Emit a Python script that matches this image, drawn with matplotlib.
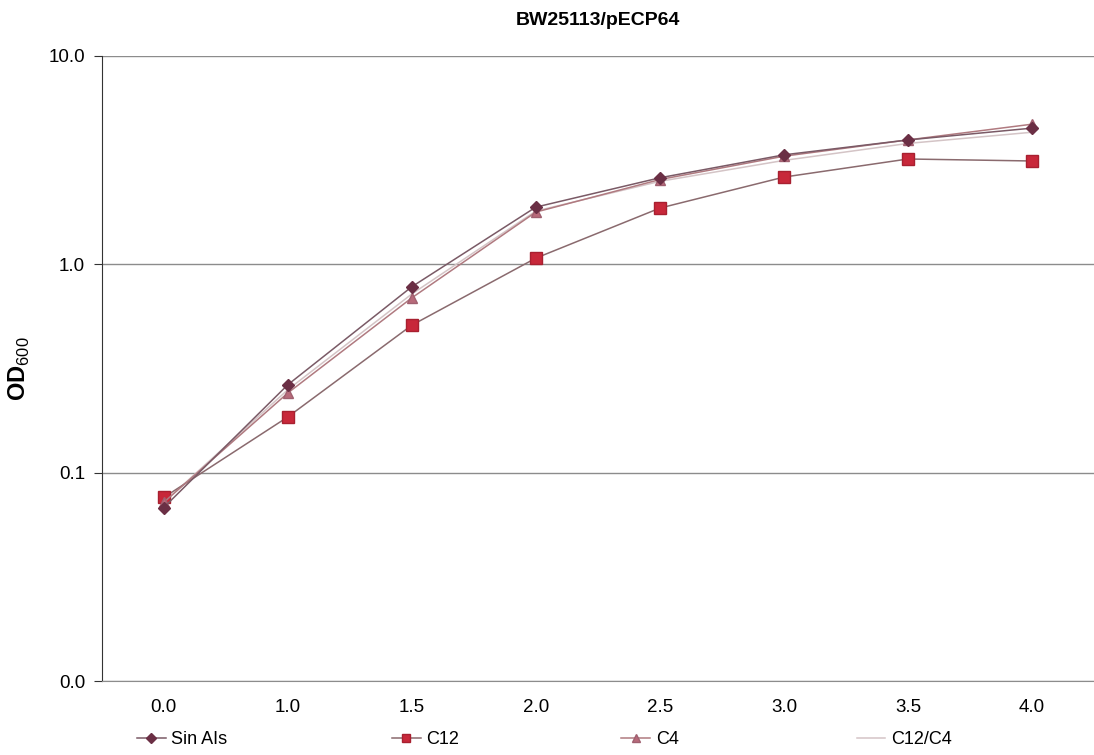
import matplotlib
matplotlib.use("Agg")
import matplotlib.pyplot as plt
from matplotlib.ticker import FixedLocator, FuncFormatter, NullLocator

plt.rcParams['font.family'] = ['Liberation Sans', 'DejaVu Sans']
plt.rcParams['mathtext.fontset'] = 'custom'
plt.rcParams['mathtext.rm'] = 'Liberation Sans'
plt.rcParams['mathtext.bf'] = 'Liberation Sans:bold'

# time points (category axis) and OD600 readings
times = ["0.0", "1.0", "1.5", "2.0", "2.5", "3.0", "3.5", "4.0"]
sin_ais = [0.068, 0.264, 0.78, 1.88, 2.60, 3.35, 3.95, 4.50]
c12 = [0.076, 0.185, 0.51, 1.07, 1.86, 2.62, 3.20, 3.13]
c4 = [0.072, 0.241, 0.69, 1.78, 2.55, 3.30, 3.95, 4.70]
c12_c4 = [0.072, 0.250, 0.72, 1.80, 2.50, 3.15, 3.80, 4.30]

fig = plt.figure(figsize=(10.94, 7.55), dpi=100)
ax = fig.add_axes([0.093, 0.098, 0.907, 0.828])

x = range(len(times))
ax.plot(x, sin_ais, color="#7a5a66", lw=1.1, marker="D", ms=6,
        mfc="#6b2f45", mec="#6b2f45", label="Sin AIs", zorder=4)
ax.plot(x, c12, color="#8a6a6e", lw=1.1, marker="s", ms=8,
        mfc="#c8283a", mec="#a82030", label="C12", zorder=3)
ax.plot(x, c4, color="#b07a80", lw=1.1, marker="^", ms=7,
        mfc="#b86a7a", mec="#a06070", label="C4", zorder=3)
ax.plot(x, c12_c4, color="#d4c4c6", lw=1.1, label="C12/C4", zorder=2)

ax.set_yscale("log")
ax.set_ylim(0.01, 10)
ax.set_xlim(-0.5, len(times) - 0.5)
ax.yaxis.set_major_locator(FixedLocator([0.01, 0.1, 1, 10]))
ax.yaxis.set_minor_locator(NullLocator())
ax.yaxis.set_major_formatter(FuncFormatter(lambda v, p: f"{v:.1f}"))
ax.set_xticks(list(x))
ax.set_xticklabels(times)

ax.grid(axis="y", color="#8c8c8c", lw=1)
ax.set_axisbelow(True)
for s in ["top", "right"]:
    ax.spines[s].set_visible(False)
ax.spines["left"].set_color("#333333")
ax.spines["bottom"].set_color("#8c8c8c")
ax.tick_params(axis="y", length=6, color="#333333", labelsize=13.5, pad=6)
ax.tick_params(axis="x", length=0, labelsize=13.5, pad=13)

ax.set_title("BW25113/pECP64", fontsize=14, fontweight="bold", pad=22)
ax.set_ylabel(r"OD$_{600}$", fontsize=17, fontweight="bold", labelpad=12)

# legend entries spread along the bottom, one per series
handles, labels = ax.get_legend_handles_labels()
for h, l, xpos in zip(handles, labels, [0.125, 0.358, 0.568, 0.783]):
    fig.legend([h], [l], loc="center left", bbox_to_anchor=(xpos, 0.02),
               frameon=False, fontsize=13, borderpad=0, borderaxespad=0,
               handlelength=1.6, handletextpad=0.3, markerscale=0.8)

fig.savefig("out.png", dpi=100)
